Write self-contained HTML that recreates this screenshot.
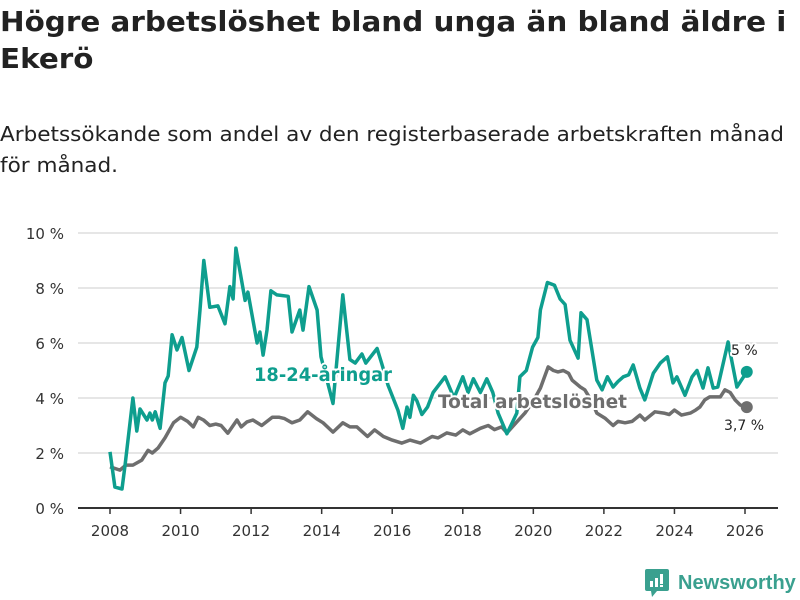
<!DOCTYPE html>
<html><head><meta charset="utf-8"><style>
body{margin:0;background:#fff;width:800px;height:600px;overflow:hidden;font-family:"DejaVu Sans","Liberation Sans",sans-serif}
h1{position:absolute;left:0;top:3px;margin:0;font-size:28px;line-height:37px;font-weight:bold;color:#222;white-space:nowrap;transform:scaleX(1.05);transform-origin:0 0}
.sub{position:absolute;left:0;top:119px;font-size:20px;line-height:31px;color:#222;white-space:nowrap;transform:scaleX(1.077);transform-origin:0 0}
svg{position:absolute;left:0;top:0}
</style></head><body>
<h1>Högre arbetslöshet bland unga än bland äldre i<br>Ekerö</h1>
<div class="sub">Arbetssökande som andel av den registerbaserade arbetskraften månad<br>för månad.</div>
<svg id="c" width="800" height="600"></svg>
<script>
const yTicks=[0,2,4,6,8,10];
const xTicks=[2008,2010,2012,2014,2016,2018,2020,2022,2024,2026];
const youngDates=[2008.0,2008.14,2008.34,2008.43,2008.65,2008.76,2008.85,2009.05,2009.13,2009.2,2009.28,2009.42,2009.56,2009.65,2009.76,2009.9,2010.04,2010.24,2010.46,2010.55,2010.66,2010.83,2011.06,2011.26,2011.4,2011.49,2011.57,2011.83,2011.91,2012.17,2012.25,2012.34,2012.45,2012.56,2012.73,2013.05,2013.16,2013.38,2013.47,2013.64,2013.87,2013.98,2014.32,2014.6,2014.8,2014.95,2015.14,2015.25,2015.57,2015.7,2015.88,2016.16,2016.3,2016.42,2016.5,2016.6,2016.7,2016.84,2017.0,2017.16,2017.5,2017.75,2018.0,2018.15,2018.3,2018.5,2018.68,2018.85,2019.0,2019.25,2019.53,2019.62,2019.8,2019.98,2020.13,2020.2,2020.4,2020.6,2020.76,2020.9,2021.04,2021.27,2021.35,2021.52,2021.8,2021.95,2022.1,2022.26,2022.4,2022.55,2022.7,2022.83,2023.02,2023.16,2023.4,2023.6,2023.8,2023.96,2024.07,2024.3,2024.5,2024.64,2024.81,2024.95,2025.1,2025.23,2025.52,2025.77,2026.05];
const youngVals=[2.04,0.76,0.69,1.6,4.0,2.8,3.6,3.2,3.45,3.2,3.5,2.9,4.55,4.8,6.3,5.75,6.2,5.0,5.85,7.2,9.0,7.3,7.35,6.7,8.05,7.6,9.45,7.55,7.85,6.0,6.4,5.56,6.47,7.9,7.75,7.7,6.4,7.2,6.47,8.05,7.2,5.5,3.8,7.75,5.4,5.27,5.6,5.27,5.8,5.27,4.47,3.56,2.9,3.67,3.3,4.1,3.9,3.4,3.67,4.2,4.77,4.0,4.77,4.2,4.7,4.2,4.7,4.2,3.45,2.7,3.45,4.77,5.0,5.85,6.2,7.2,8.2,8.1,7.6,7.4,6.1,5.45,7.1,6.85,4.65,4.3,4.77,4.4,4.6,4.77,4.84,5.2,4.36,3.93,4.9,5.27,5.5,4.55,4.77,4.1,4.77,5.0,4.36,5.1,4.36,4.4,6.04,4.4,4.95];
const totalDates=[2008.0,2008.28,2008.45,2008.65,2008.9,2009.08,2009.2,2009.36,2009.56,2009.8,2010.0,2010.2,2010.36,2010.5,2010.65,2010.83,2011.0,2011.15,2011.34,2011.6,2011.72,2011.88,2012.05,2012.3,2012.6,2012.8,2012.95,2013.16,2013.38,2013.6,2013.85,2014.04,2014.32,2014.6,2014.8,2015.0,2015.3,2015.5,2015.75,2016.0,2016.27,2016.5,2016.8,2017.13,2017.3,2017.55,2017.8,2018.0,2018.2,2018.5,2018.72,2018.9,2019.1,2019.25,2019.53,2019.76,2020.0,2020.2,2020.42,2020.57,2020.7,2020.85,2021.0,2021.1,2021.33,2021.46,2021.65,2021.8,2022.03,2022.26,2022.4,2022.6,2022.8,2023.02,2023.16,2023.45,2023.7,2023.85,2024.0,2024.2,2024.45,2024.6,2024.72,2024.86,2025.0,2025.3,2025.43,2025.58,2025.72,2025.86,2026.05];
const totalVals=[1.5,1.38,1.56,1.56,1.74,2.1,2.0,2.18,2.55,3.1,3.3,3.15,2.95,3.3,3.2,3.0,3.05,3.0,2.72,3.2,2.95,3.13,3.2,3.0,3.3,3.3,3.25,3.1,3.2,3.5,3.25,3.1,2.76,3.1,2.95,2.95,2.6,2.84,2.6,2.47,2.36,2.47,2.36,2.6,2.55,2.73,2.65,2.84,2.7,2.9,3.0,2.85,2.95,2.73,3.13,3.45,3.9,4.36,5.13,5.0,4.95,5.0,4.9,4.65,4.4,4.3,3.9,3.45,3.27,3.0,3.15,3.1,3.15,3.38,3.2,3.5,3.45,3.4,3.56,3.38,3.45,3.56,3.67,3.93,4.04,4.04,4.3,4.2,3.93,3.75,3.67];
const NS="http://www.w3.org/2000/svg";
const svg=document.getElementById('c');
const X=v=>110+(v-2008)*(745-110)/18;
const Y=v=>508-v*27.5;
function mk(tag,attrs,parent){const e=document.createElementNS(NS,tag);for(const k in attrs)e.setAttribute(k,attrs[k]);(parent||svg).appendChild(e);return e;}
yTicks.forEach(t=>{
  if(t>0){const g=mk('line',{x1:78,x2:778,y1:Y(t),y2:Y(t),stroke:'#ddd','stroke-width':1.5});
  
  }
  const l=mk('text',{x:64,y:Y(t)+6,'text-anchor':'end','font-size':15,fill:'#333'});
  l.textContent=t+' %';
  
  
});
const ax=mk('line',{x1:78,x2:778,y1:508,y2:508,stroke:'#333','stroke-width':2});


xTicks.forEach(t=>{
  mk('line',{x1:X(t),x2:X(t),y1:508,y2:514,stroke:'#333','stroke-width':1.5});
  const l=mk('text',{x:X(t),y:536,'text-anchor':'middle','font-size':15,fill:'#333'});
  l.textContent=t;
  
  
});
function line(d,v,col,name){
  const p=mk('path',{d:d.map((x,i)=>(i?'L':'M')+X(x).toFixed(1)+','+Y(v[i]).toFixed(1)).join(''),fill:'none',stroke:col,'stroke-width':3.5,'stroke-linejoin':'round'});
  
  
  const c=mk('circle',{cx:X(d[d.length-1]),cy:Y(v[v.length-1]),r:6,fill:col});
  
  
}
line(totalDates,totalVals,'#6e6e6e','total-line');
line(youngDates,youngVals,'#0e9e8e','youth-line');
function lab(x,y,t,col,size,w,name,len){
  const e=mk('text',{x:x,y:y,'font-size':size,'font-weight':w,fill:col,stroke:'#fff','stroke-width':4,'paint-order':'stroke','stroke-linejoin':'round'});
  if(len){e.setAttribute('textLength',len);e.setAttribute('lengthAdjust','spacingAndGlyphs');}
  e.textContent=t;
  
  
}
lab(254,381,'18-24-åringar','#0e9e8e',19,'bold','youth-series-label',138);
lab(438,408,'Total arbetslöshet','#6e6e6e',19,'bold','total-series-label',189);
lab(731,355,'5 %','#222',14,'normal','youth-end-value');
lab(724,430,'3,7 %','#222',14,'normal','total-end-value');
</script>
<div style="position:absolute;left:645px;top:568px;height:30px;display:flex;align-items:center">
<svg width="24" height="28" style="position:static"><rect x="0" y="0" width="24" height="22" rx="2" fill="#3aa08f"/><polygon points="6,22 12,22 7,28" fill="#3aa08f"/><rect x="5" y="12" width="3" height="6" fill="#fff"/><rect x="10" y="9" width="3" height="9" fill="#fff"/><rect x="15" y="5" width="3" height="10" fill="#fff"/><rect x="15" y="16" width="3" height="2" fill="#fff"/></svg>
<span style="margin-left:9px;color:#3aa08f;font-size:20px;font-weight:bold;font-family:'Liberation Sans',sans-serif">Newsworthy</span>
</div>
</body></html>
